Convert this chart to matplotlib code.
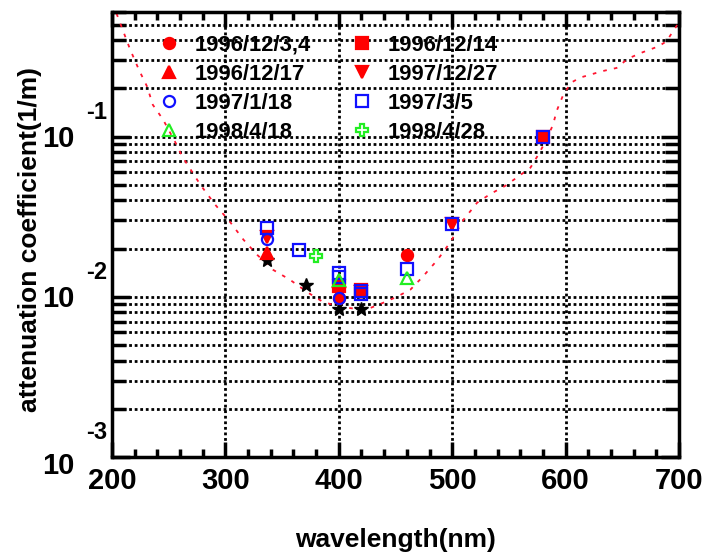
import numpy as np
import matplotlib
matplotlib.use("Agg")
import matplotlib.pyplot as plt
from matplotlib.ticker import LogLocator, NullFormatter, MultipleLocator

plt.rcParams['font.family'] = ['Liberation Sans', 'DejaVu Sans']
plt.rcParams['font.weight'] = 'bold'

# ---- data ----
curve_nm = [204, 211, 216, 224, 231, 236, 245, 256, 262, 278, 291, 304, 316, 328, 342, 357,
            373, 386, 401, 416, 428, 439, 451, 463, 474, 487, 498, 510, 522, 534, 547, 558,
            569, 577, 583, 589, 592, 598, 605, 613, 619, 632, 645, 655, 668, 682, 689, 694,
            697, 700]
curve_val = [0.587, 0.434, 0.350, 0.259, 0.205, 0.158, 0.128, 0.0917, 0.075, 0.050, 0.0376,
             0.0294, 0.0227, 0.0183, 0.01475, 0.01277, 0.0106, 0.0093, 0.00866, 0.0084,
             0.00853, 0.00917, 0.0100, 0.01106, 0.01334, 0.0170, 0.02175, 0.0303, 0.0387,
             0.044, 0.0494, 0.0562, 0.064, 0.0794, 0.0958, 0.119, 0.144, 0.183, 0.2176,
             0.234, 0.2405, 0.256, 0.2685, 0.307, 0.3365, 0.3664, 0.394, 0.4467, 0.48, 0.52]

labels = ['1996/12/3,4', '1996/12/14', '1996/12/17', '1997/12/27',
          '1997/1/18', '1997/3/5', '1998/4/18', '1998/4/28']

s1_nm, s1_val = [400, 460], [0.0098, 0.0183]                 # 1996/12/3,4
s2_nm, s2_val = [400, 420, 580], [0.0116, 0.0111, 0.0995]    # 1996/12/14
s3_nm, s3_val = [337, 400], [0.0188, 0.0125]                 # 1996/12/17
s4_nm, s4_val = [337, 420, 500], [0.0238, 0.0107, 0.0283]    # 1997/12/27
s5_nm, s5_val = [337, 400], [0.0230, 0.0099]                 # 1997/1/18
s6_nm, s6_val = [337, 365, 400, 400, 420, 420, 460, 500, 580], \
                [0.0268, 0.0195, 0.0141, 0.0133, 0.0108, 0.0104, 0.0149, 0.0286, 0.0995]  # 1997/3/5
s7_nm, s7_val = [400, 460], [0.0128, 0.0131]                 # 1998/4/18
s8_nm, s8_val = [380], [0.0179]                              # 1998/4/28
star_nm, star_val = [337, 371, 400, 420], [0.0170, 0.0119, 0.00838, 0.00838]

RED, BLUE, GREEN = '#ff0000', '#1010ff', '#22ee22'

fig = plt.figure(figsize=(7.06, 5.54), dpi=100)
W, H = 706, 554
L, R, T, B = 112, 679, 12, 457
ax = fig.add_axes([L / W, 1 - B / H, (R - L) / W, (B - T) / H])
ax.set_yscale('log')
ax.set_xlim(200, 700)
ax.set_ylim(1e-3, 0.6)

ax.plot(curve_nm, curve_val, color='#ff1530', lw=1.3, ls=(0, (2, 4)), zorder=2)

ms = 8
mew = 1.6
series = [
    (s1_nm, s1_val, dict(marker='o', color=RED, mfc=RED)),
    (s2_nm, s2_val, dict(marker='s', color=RED, mfc=RED)),
    (s3_nm, s3_val, dict(marker='^', color=RED, mfc=RED)),
    (s4_nm, s4_val, dict(marker='v', color=RED, mfc=RED)),
    (s5_nm, s5_val, dict(marker='o', color=BLUE, mfc='none')),
    (s6_nm, s6_val, dict(marker='s', color=BLUE, mfc='none')),
    (s7_nm, s7_val, dict(marker='^', color=GREEN, mfc='none')),
    (s8_nm, s8_val, dict(marker='P', color=GREEN, mfc='none')),
]
handles = []
for (xs, ys, st), lab in zip(series, labels):
    h, = ax.plot(xs, ys, ls='none', ms=ms, mew=mew, label=lab, zorder=4, **st)
    handles.append(h)
ax.plot(star_nm, star_val, ls='none', marker='*', color='k', ms=10, zorder=3)

# ticks / grid
ax.xaxis.set_major_locator(MultipleLocator(100))
ax.xaxis.set_minor_locator(MultipleLocator(20))
ax.yaxis.set_major_locator(LogLocator(base=10, numticks=10))
ax.yaxis.set_minor_locator(LogLocator(base=10, subs=np.arange(2, 10), numticks=20))
ax.yaxis.set_major_formatter(NullFormatter())
ax.yaxis.set_minor_formatter(NullFormatter())

ax.tick_params(which='both', direction='in', top=True, right=True, width=2.5, color='k')
ax.tick_params(axis='x', which='major', length=11, pad=7, labelsize=21)
ax.tick_params(axis='x', which='minor', length=6)
ax.tick_params(axis='y', which='major', length=13)
ax.tick_params(axis='y', which='minor', length=10)
for lab in ax.get_xticklabels():
    lab.set_fontweight('bold')
for sp in ax.spines.values():
    sp.set_linewidth(2.5)

gs = dict(color='k', ls=(0, (1, 1)), lw=2)
ax.grid(True, which='major', axis='x', **gs)
ax.grid(True, which='both', axis='y', **gs)
ax.set_axisbelow(True)

# y tick labels in "10 with raised exponent" style
for d, dy in [(-1, -2), (-2, -2), (-3, -9)]:
    ax.annotate('10', xy=(0, 10.0 ** d), xycoords=('axes fraction', 'data'),
                xytext=(-38, dy), textcoords='offset pixels', ha='right', va='center',
                fontsize=21, fontweight='bold')
    ax.annotate(str(d), xy=(0, 10.0 ** d), xycoords=('axes fraction', 'data'),
                xytext=(-5, 24), textcoords='offset pixels', ha='right', va='center',
                fontsize=17, fontweight='bold')

fig.text(30 / W, 1 - 239 / H, 'attenuation coefficient(1/m)', rotation=90,
         ha='center', va='center', fontsize=19, fontweight='bold')
fig.text(395.5 / W, 1 - 540 / H, 'wavelength(nm)', ha='center', va='center',
         fontsize=19, fontweight='bold')

# legend filled row by row (matplotlib fills column-wise)
order = [0, 2, 4, 6, 1, 3, 5, 7]
leg = ax.legend(handles=[handles[i] for i in order], ncol=2, loc='upper left',
                bbox_to_anchor=(0.062, 0.974), frameon=False, borderpad=0,
                handlelength=1.0, handletextpad=0.65,
                columnspacing=1.85, labelspacing=0.37, numpoints=1,
                prop=dict(weight='bold', size=15.8))

fig.savefig('out.png', dpi=100)
